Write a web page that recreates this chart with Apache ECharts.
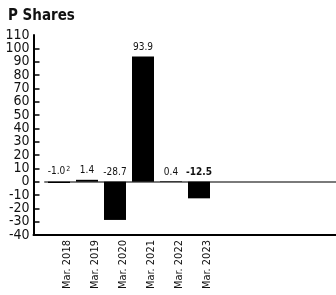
<!DOCTYPE html>
<html>
<head>
<meta charset="utf-8">
<script src="https://cdn.jsdelivr.net/npm/echarts@6/dist/echarts.min.js"></script>
<style>
  html, body { margin: 0; padding: 0; background: #fff; }
  #chart { width: 336px; height: 295px; }
</style>
</head>
<body>
<div id="chart"></div>
<script>
const categories = ["Mar. 2018", "Mar. 2019", "Mar. 2020", "Mar. 2021", "Mar. 2022", "Mar. 2023"];
const values = [-1.0, 1.4, -28.7, 93.9, 0.4, -12.5];
const valueLabels = ["{n|-1.0}{sup|2}", "{n|1.4}", "{n|-28.7}", "{n|93.9}", "{n|0.4}", "{b|-12.5}"];
const yMin = -40, yMax = 110, yStep = 10;
const emptySlots = 5; // unused space to the right of the bars

(() => {
  const font = "'DejaVu Sans Condensed', 'Liberation Sans', sans-serif";
  let myChart = echarts.init(document.querySelector("#chart"));
  let cats = categories.concat(new Array(emptySlots).fill(""));
  const yLabel = { fontFamily: font, fontSize: 14, color: "#111" };
  let option = {
    animation: false,
    title: {
      text: "P Shares",
      left: 3,
      top: 4,
      textStyle: { fontFamily: font, fontSize: 15, fontWeight: "bold", color: "#111" },
    },
    grid: [
      { left: 33.5, right: 0, top: 35, bottom: 60, outerBoundsMode: "none" },
      { left: 45, width: 28 * (categories.length + emptySlots), top: 35, bottom: 60, outerBoundsMode: "none" },
    ],
    xAxis: [
      {
        type: "category",
        gridIndex: 0,
        data: [""],
        axisLine: { onZero: false, lineStyle: { color: "#000", width: 2 } },
        axisTick: { show: false },
        axisLabel: { show: false },
      },
      {
        type: "category",
        gridIndex: 1,
        data: cats,
        axisLine: { onZero: true, lineStyle: { color: "#7a7a7a", width: 2 } },
        axisTick: { show: false },
        axisLabel: {
          rotate: 90,
          interval: 0,
          margin: 5,
          verticalAlign: "top",
          formatter: (v) => (v ? "{l|" + v + "}" : ""),
          rich: {
            l: { fontFamily: font, fontSize: 11, color: "#111", padding: [3, 0, 0, 0] },
          },
        },
      },
    ],
    yAxis: [
      {
        type: "value",
        gridIndex: 0,
        position: "left",
        min: yMin,
        max: yMax,
        interval: yStep,
        axisLine: { show: true, lineStyle: { color: "#000", width: 2 } },
        axisTick: { show: true, inside: true, length: 6, lineStyle: { color: "#000", width: 1.5 } },
        axisLabel: Object.assign({ margin: 4, showMinLabel: false, showMaxLabel: false }, yLabel),
        splitLine: { show: false },
      },
      {
        type: "value",
        gridIndex: 1,
        min: yMin,
        max: yMax,
        interval: yStep,
        show: false,
      },
      {
        // end labels (110 and -40) on their own so the overlap check keeps them all
        type: "value",
        gridIndex: 0,
        position: "left",
        offset: 0,
        min: yMin,
        max: yMax,
        interval: yStep,
        axisLine: { show: false },
        axisTick: { show: false },
        splitLine: { show: false },
        axisLabel: Object.assign(
          {
            margin: 4,
            formatter: (v) => (v === yMin || v === yMax ? String(v) : ""),
          },
          yLabel
        ),
      },
    ],
    series: [
      {
        type: "bar",
        xAxisIndex: 1,
        yAxisIndex: 1,
        barWidth: 22,
        itemStyle: { color: "#000" },
        data: values,
      },
      {
        // carries the value labels, sitting above the zero line or bar top
        type: "bar",
        xAxisIndex: 1,
        yAxisIndex: 1,
        barWidth: 22,
        barGap: "-100%",
        itemStyle: { color: "transparent" },
        silent: true,
        label: {
          show: true,
          position: "top",
          distance: 4,
          formatter: (p) => valueLabels[p.dataIndex],
          rich: {
            n: { fontFamily: font, fontSize: 10, color: "#111" },
            b: { fontFamily: font, fontSize: 10, fontWeight: "bold", color: "#111" },
            sup: { fontFamily: font, fontSize: 7, color: "#111", verticalAlign: "top", padding: [0, 0, 5, 1] },
          },
        },
        data: values.map((v) => Math.max(v, 0)),
      },
    ],
  };
  myChart.setOption(option);
  window.addEventListener("resize", () => {
    myChart.resize();
  });
})();
</script>
</body>
</html>
